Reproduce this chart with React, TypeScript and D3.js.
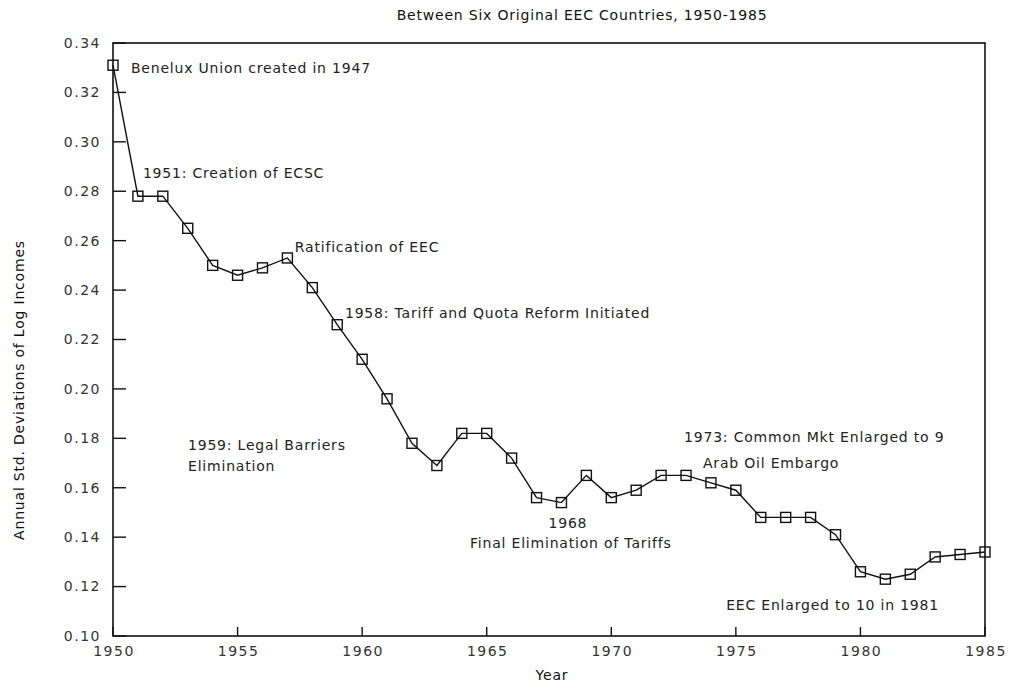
import React from "react";
import * as d3 from "d3";

const years: number[] = d3.range(1950, 1986);
const values: number[] = [
  0.331, 0.278, 0.278, 0.265, 0.250, 0.246, 0.249, 0.253, 0.241, 0.226,
  0.212, 0.196, 0.178, 0.169, 0.182, 0.182, 0.172, 0.156, 0.154, 0.165,
  0.156, 0.159, 0.165, 0.165, 0.162, 0.159, 0.148, 0.148, 0.148, 0.141,
  0.126, 0.123, 0.125, 0.132, 0.133, 0.134,
];
const yTicks: number[] = [0.1, 0.12, 0.14, 0.16, 0.18, 0.2, 0.22, 0.24, 0.26, 0.28, 0.3, 0.32, 0.34];
const xTicks: number[] = [1950, 1955, 1960, 1965, 1970, 1975, 1980, 1985];

const noteTexts: string[] = [
  "Benelux Union created in 1947",
  "1951: Creation of ECSC",
  "Ratification of EEC",
  "1958: Tariff and Quota Reform Initiated",
  "1959: Legal Barriers",
  "Elimination",
  "1968",
  "Final Elimination of Tariffs",
  "1973: Common Mkt Enlarged to 9",
  "Arab Oil Embargo",
  "EEC Enlarged to 10 in 1981",
];
const noteYears: number[] = [1950.72, 1951.2, 1957.3, 1959.31, 1953.01, 1953.01, 1968.26, 1964.33, 1972.92, 1973.68, 1974.61];
const noteValues: number[] = [0.3279, 0.2854, 0.2554, 0.2287, 0.1753, 0.1668, 0.1437, 0.1356, 0.1785, 0.168, 0.1105];
const noteAnchors: string[] = ["start", "start", "start", "start", "start", "start", "middle", "start", "start", "start", "start"];

const title = "Between Six Original EEC Countries, 1950-1985";
const xTitle = "Year";
const yTitle = "Annual Std. Deviations of Log Incomes";

const W = 1011;
const H = 686;
const left = 113, right = 985, top = 43, bottom = 636;
const FONT = "'DejaVu Sans', sans-serif";

export default function App() {
  const x = d3.scaleLinear().domain([1950, 1985]).range([left, right]);
  const y = d3.scaleLinear().domain([0.1, 0.34]).range([bottom, top]);
  const line = d3.line<number>().x((_, i) => x(years[i])).y((d) => y(d));
  const ms = 10;
  return (
    <svg width={W} height={H} style={{ position: "absolute", left: 0, top: 0, background: "#fff" }} fontFamily={FONT}>
      <rect x={0} y={0} width={W} height={H} fill="#fff" />
      <text x={582} y={20} textAnchor="middle" fontSize={14} letterSpacing={0.8} fill="#111">{title}</text>
      <rect x={left} y={top} width={right - left} height={bottom - top} fill="none" stroke="#111" strokeWidth={1.6} />
      {yTicks.map((t) => (
        <g key={"y" + t}>
          <line x1={left} x2={left + 13} y1={y(t)} y2={y(t)} stroke="#111" strokeWidth={1.4} />
          <text x={101} y={y(t)} dy="0.35em" textAnchor="end" fontSize={14} letterSpacing={1.5} fill="#333">{t.toFixed(2)}</text>
        </g>
      ))}
      {xTicks.map((t) => (
        <g key={"x" + t}>
          <line x1={x(t)} x2={x(t)} y1={bottom} y2={bottom - 9} stroke="#111" strokeWidth={1.4} />
          <text x={x(t) + 1} y={656} textAnchor="middle" fontSize={14} letterSpacing={1.5} fill="#333">{t}</text>
        </g>
      ))}
      <text x={552} y={680} textAnchor="middle" fontSize={14} letterSpacing={0.8} fill="#111">{xTitle}</text>
      <text transform={`translate(24,390) rotate(-90)`} textAnchor="middle" fontSize={14} letterSpacing={0.8} fill="#111">{yTitle}</text>
      <path d={line(values) || ""} fill="none" stroke="#111" strokeWidth={1.4} />
      {values.map((v, i) => (
        <rect key={"m" + i} x={x(years[i]) - ms / 2} y={y(v) - ms / 2} width={ms} height={ms} fill="none" stroke="#111" strokeWidth={1.4} />
      ))}
      {noteTexts.map((t, i) => (
        <text key={"n" + i} x={x(noteYears[i])} y={y(noteValues[i])} textAnchor={noteAnchors[i] as any} fontSize={14} letterSpacing={0.8} fill="#222">{t}</text>
      ))}
    </svg>
  );
}
